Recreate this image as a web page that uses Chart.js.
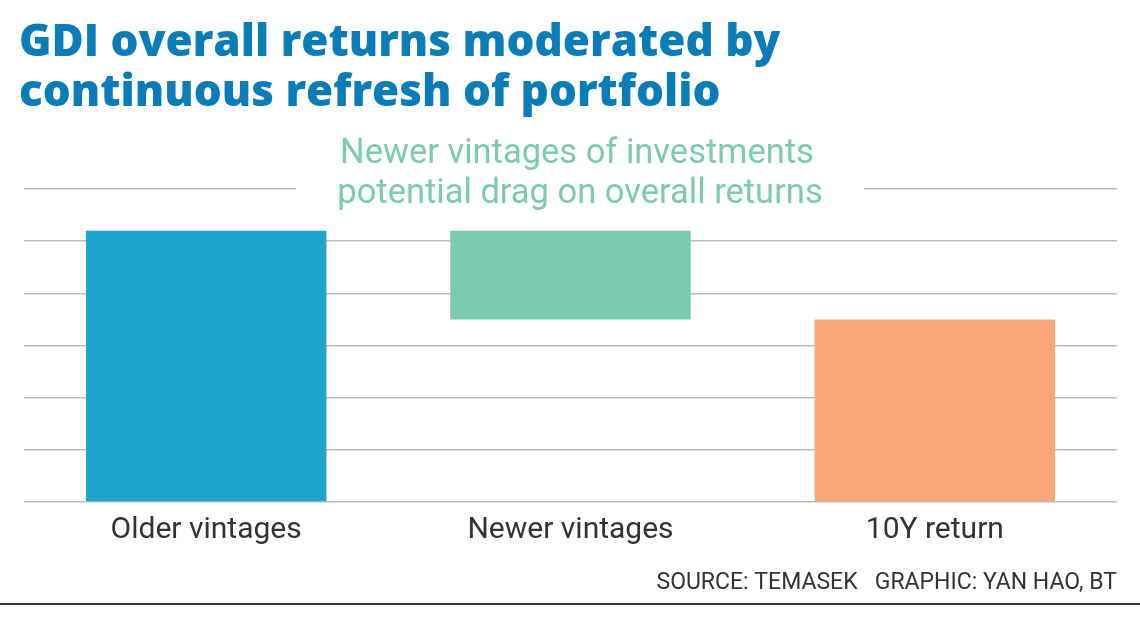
<!DOCTYPE html>
<html>
<head>
<meta charset="utf-8">
<script src="https://cdn.jsdelivr.net/npm/chart.js@4"></script>
<style>
  html, body { margin: 0; padding: 0; background: #fff; }
  #wrap { position: relative; width: 1140px; height: 617px; }
</style>
</head>
<body>
<div id="wrap"><canvas id="chart" width="1140" height="617"></canvas></div>
<script>
const categories = ["Older vintages", "Newer vintages", "10Y return"];
const barStarts = [0, 3.5, 0];
const barEnds = [5.2, 5.2, 3.5];
const barColors = ["#1fa5cc", "#7ccbb1", "#f7a676"];
const titleLines = ["GDI overall returns moderated by", "continuous refresh of portfolio"];
const noteLines = ["Newer vintages of investments", "potential drag on overall returns"];
const sourceText = "SOURCE: TEMASEK   GRAPHIC: YAN HAO, BT";

const textPlugin = {
  id: "texts",
  afterDatasetsDraw(chart) {
    const ctx = chart.ctx;
    ctx.save();
    // white box behind the note, cuts the top gridline
    ctx.fillStyle = "#fff";
    ctx.fillRect(296, 132, 568, 92);

    ctx.fillStyle = "#7ccbb1";
    ctx.font = "400 34.5px Roboto";
    ctx.textAlign = "center";
    ctx.textBaseline = "middle";
    ctx.fillText(noteLines[0], 577, 154);
    ctx.fillText(noteLines[1], 580, 194);

    ctx.fillStyle = "#0a7db8";
    ctx.font = "800 44px 'Open Sans'";
    ctx.textAlign = "left";
    ctx.fillText(titleLines[0], 19, 43);
    ctx.fillText(titleLines[1], 19, 93);

    ctx.fillStyle = "#333";
    ctx.font = "400 23px Roboto";
    ctx.textAlign = "right";
    ctx.fillText(sourceText, 1117, 583);

    ctx.strokeStyle = "#333";
    ctx.lineWidth = 2;
    ctx.beginPath();
    ctx.moveTo(0, 604);
    ctx.lineTo(1140, 604);
    ctx.stroke();
    ctx.restore();
  }
};

new Chart(document.getElementById("chart"), {
  type: "bar",
  data: {
    labels: categories,
    datasets: [{
      data: barStarts.map((s, i) => [s, barEnds[i]]),
      backgroundColor: barColors,
      borderWidth: 0,
      categoryPercentage: 1,
      barPercentage: 0.66,
    }],
  },
  options: {
    responsive: false,
    animation: false,
    layout: { padding: { left: 24, right: 23, top: 189, bottom: 65 } },
    plugins: { legend: { display: false }, tooltip: { enabled: false } },
    scales: {
      x: {
        grid: { display: false },
        border: { display: false },
        ticks: { color: "#333", font: { family: "Roboto", size: 30 }, padding: 2 },
        afterFit(scale) { scale.height = 50; },
      },
      y: {
        min: 0,
        max: 6,
        ticks: { display: false, stepSize: 1 },
        grid: { color: "#bdbdbd", lineWidth: 1.5, drawTicks: false },
        border: { display: false },
      },
    },
  },
  plugins: [textPlugin],
});
</script>
</body>
</html>
